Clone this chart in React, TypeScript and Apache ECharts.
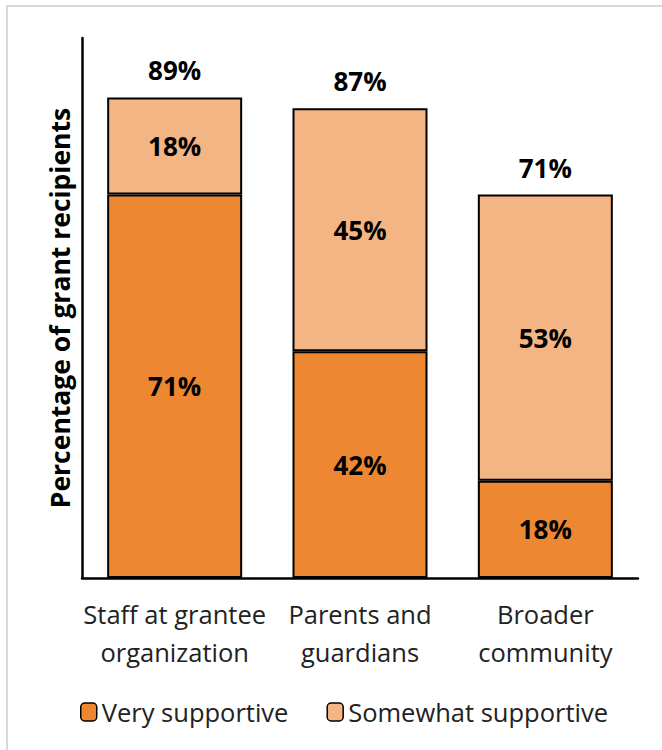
import React, { useEffect, useRef } from "react";
import * as echarts from "echarts";

const categories = ["Staff at grantee\norganization", "Parents and\nguardians", "Broader\ncommunity"];
const verySupportive = [71, 42, 18];
const somewhatSupportive = [18, 45, 53];
const totals = [89, 87, 71];
const seriesNames = ["Very supportive", "Somewhat supportive"];
const yAxisTitle = "Percentage of grant recipients";

const FONT = "'Open Sans', 'Noto Sans', sans-serif";

export default function App() {
  const ref = useRef<HTMLDivElement>(null);
  useEffect(() => {
    document.body.style.margin = "0";
    const chart = echarts.init(ref.current!, null, { renderer: "svg" });
    const labelStyle = {
      show: true,
      position: "inside" as const,
      fontFamily: FONT,
      fontSize: 26,
      fontWeight: "bold" as const,
      color: "#000",
      formatter: (p: any) => p.value + "%",
    };
    chart.setOption({
      animation: false,
      textStyle: { fontFamily: FONT },
      graphic: [
        { type: "rect", shape: { x: 6, y: 5, width: 2, height: 745 }, style: { fill: "#d9d9d9" } },
        { type: "rect", shape: { x: 6, y: 5, width: 656, height: 2 }, style: { fill: "#d9d9d9" } },
      ],
      grid: { left: 82, right: 24, top: 38, bottom: 172 },
      legend: {
        data: seriesNames,
        bottom: 20,
        left: 75,
        itemWidth: 16,
        itemHeight: 18,
        itemGap: 38,
        textStyle: { fontFamily: FONT, fontSize: 25.5, color: "#222" },
        itemStyle: { borderColor: "#000", borderWidth: 1.5 },
      },
      xAxis: {
        type: "category",
        data: categories,
        axisLine: { lineStyle: { color: "#000", width: 2.5 } },
        axisTick: { show: false },
        axisLabel: {
          fontFamily: FONT,
          fontSize: 25.5,
          color: "#222",
          lineHeight: 38,
          margin: 17,
          interval: 0,
        },
      },
      yAxis: {
        type: "value",
        min: 0,
        max: 100,
        name: yAxisTitle,
        nameLocation: "middle",
        nameGap: 9,
        nameTextStyle: { fontFamily: FONT, fontSize: 26.5, fontWeight: "bold", color: "#000" },
        axisLine: { show: true, lineStyle: { color: "#000", width: 2.5 } },
        axisTick: { show: false },
        axisLabel: { show: false },
        splitLine: { show: false },
      },
      series: [
        {
          name: seriesNames[0],
          type: "bar",
          stack: "s",
          barWidth: 135,
          data: verySupportive,
          itemStyle: { color: "#ED8731", borderColor: "#000", borderWidth: 2 },
          label: labelStyle,
        },
        {
          name: seriesNames[1],
          type: "bar",
          stack: "s",
          barWidth: 135,
          data: somewhatSupportive,
          itemStyle: { color: "#F4B584", borderColor: "#000", borderWidth: 2 },
          label: labelStyle,
        },
        {
          name: "Total",
          type: "bar",
          stack: "s",
          barWidth: 135,
          data: totals.map(() => 0),
          itemStyle: { color: "transparent", borderWidth: 0 },
          label: {
            show: true,
            position: "top",
            distance: 14,
            fontFamily: FONT,
            fontSize: 26,
            fontWeight: "bold",
            color: "#000",
            formatter: (p: any) => totals[p.dataIndex] + "%",
          },
          tooltip: { show: false },
        },
      ],
    });
    return () => chart.dispose();
  }, []);
  return <div ref={ref} style={{ width: 662, height: 750 }} />;
}
